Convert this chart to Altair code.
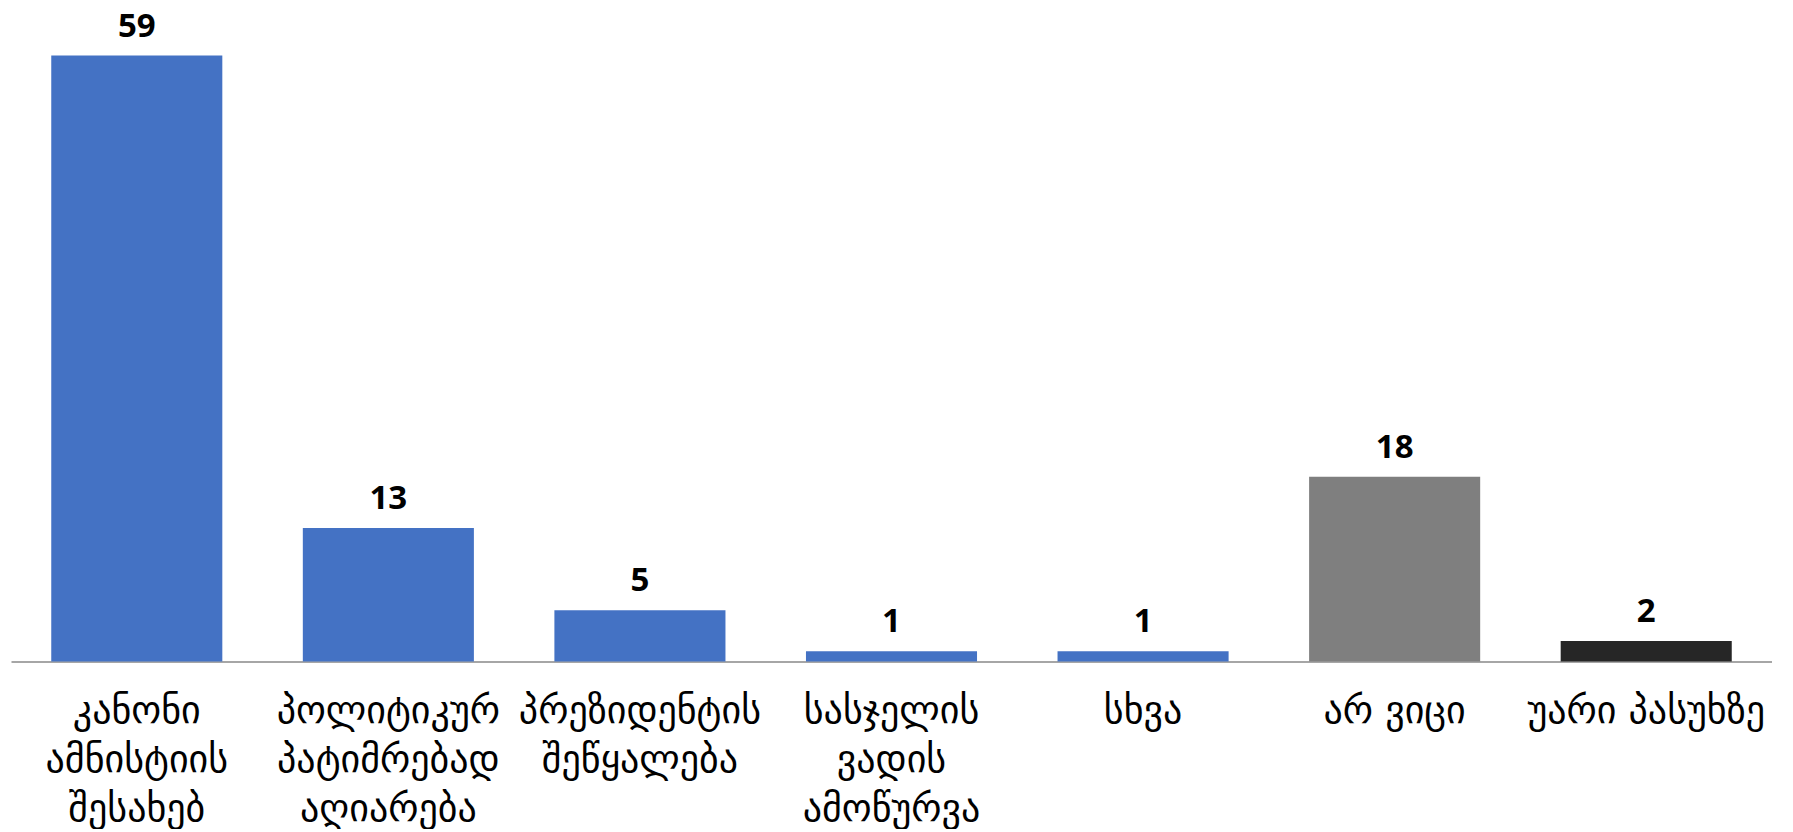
import altair as alt
import pandas as pd

categories = [
    "კანონი\nამნისტიის\nშესახებ",
    "პოლიტიკურ\nპატიმრებად\nაღიარება",
    "პრეზიდენტის\nშეწყალება",
    "სასჯელის\nვადის\nამოწურვა",
    "სხვა",
    "არ ვიცი",
    "უარი პასუხზე",
]
values = [59, 13, 5, 1, 1, 18, 2]
colors = ["#4472C4", "#4472C4", "#4472C4", "#4472C4", "#4472C4", "#7F7F7F", "#262626"]

df = pd.DataFrame({"cat": categories, "val": values, "col": colors})

x = alt.X(
    "cat:N",
    sort=categories,
    scale=alt.Scale(paddingInner=0.32, paddingOuter=0.16),
    axis=alt.Axis(
        title=None,
        labelAngle=0,
        labelExpr="split(datum.label, '\\n')",
        labelFont="DejaVu Sans",
        labelFontSize=38,
        labelColor="#000000",
        labelLineHeight=49,
        labelPadding=50,
        labelLimit=0,
        labelBaseline="middle",
        labelOverlap=False,
        ticks=False,
        domainColor="#A6A6A6",
        domainWidth=2,
    ),
)
y = alt.Y(
    "val:Q",
    scale=alt.Scale(domain=[0, 63.0], nice=False),
    axis=None,
)

bars = alt.Chart(df).mark_bar().encode(
    x=x, y=y, color=alt.Color("col:N", scale=None)
)
labels = alt.Chart(df).mark_text(
    font="Open Sans", fontSize=33, fontWeight="bold", color="#000000",
    baseline="alphabetic", dy=-19,
).encode(x=alt.X("cat:N", sort=categories), y="val:Q", text="val:Q")

chart = (
    alt.layer(bars, labels)
    .properties(width=1761, height=647, padding={"left": 3, "top": 2.5, "right": 0, "bottom": 0})
    .configure(background="#FFFFFF")
    .configure_view(stroke=None, strokeWidth=0)
)
chart.save("out.html", embed_options={"renderer": "svg", "actions": False})
